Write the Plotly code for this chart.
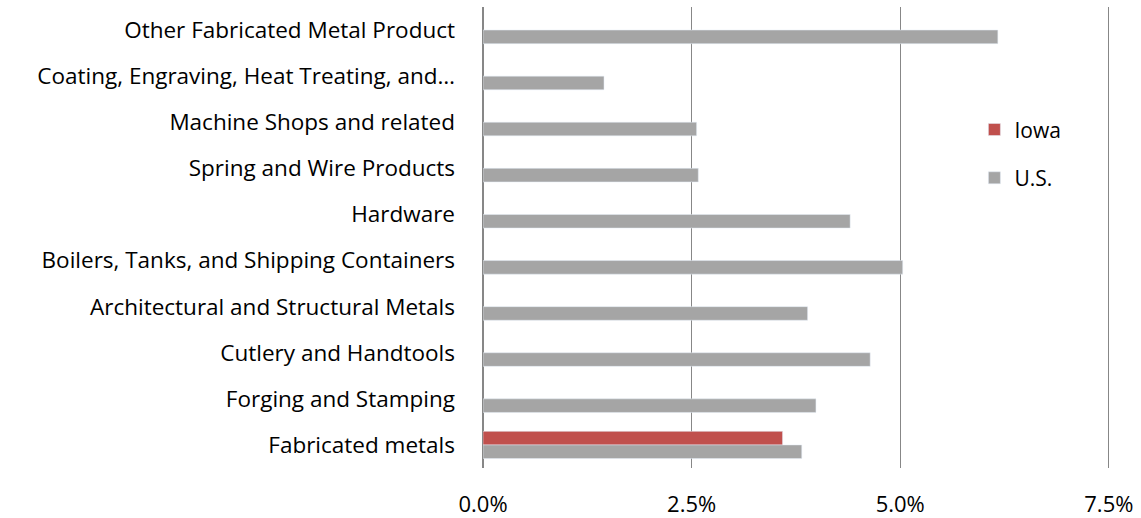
import plotly.graph_objects as go

categories = [
    "Other Fabricated Metal Product",
    "Coating, Engraving, Heat Treating, and…",
    "Machine Shops and related",
    "Spring and Wire Products",
    "Hardware",
    "Boilers, Tanks, and Shipping Containers",
    "Architectural and Structural Metals",
    "Cutlery and Handtools",
    "Forging and Stamping",
    "Fabricated metals",
]
iowa = [None, None, None, None, None, None, None, None, None, 3.59]
us = [6.17, 1.45, 2.56, 2.58, 4.40, 5.03, 3.89, 4.64, 3.99, 3.82]

FONT = "Open Sans"
GRID = "#878787"

fig = go.Figure()
fig.add_trace(go.Bar(
    y=categories, x=iowa, name="Iowa", orientation="h",
    marker=dict(color="#C0504D"), legendgroup="iowa",
))
fig.add_trace(go.Bar(
    y=categories, x=us, name="U.S.", orientation="h",
    marker=dict(color="#A5A5A5"), legendgroup="us",
))

fig.update_layout(
    width=1141, height=518,
    barmode="group", bargap=0.41, bargroupgap=0,
    margin=dict(l=483, r=28, t=7, b=50),
    paper_bgcolor="white", plot_bgcolor="white",
    font=dict(family=FONT, size=22.5, color="#000000"),
    legend=dict(
        x=0.78, y=0.778, xanchor="left", yanchor="top",
        traceorder="grouped", tracegroupgap=18,
        font=dict(family=FONT, size=21, color="#000000"),
        bgcolor="rgba(0,0,0,0)",
    ),
    xaxis=dict(
        range=[0, 7.55], dtick=2.5, tick0=0,
        tickformat=".1f", ticksuffix="%",
        showgrid=True, gridcolor=GRID, gridwidth=1.3,
        zeroline=True, zerolinecolor=GRID, zerolinewidth=1.5,
        showline=False, ticks="", ticklabelstandoff=21,
        tickfont=dict(size=22), automargin=False,
        fixedrange=True,
    ),
    yaxis=dict(
        autorange="reversed", showgrid=False, zeroline=False,
        showline=False, ticks="", ticklabelstandoff=27,
        automargin=False, fixedrange=True,
    ),
)

fig.write_html(
    "out.html",
    config={"displayModeBar": False},
    post_script="document.body.style.margin='0';",
)
